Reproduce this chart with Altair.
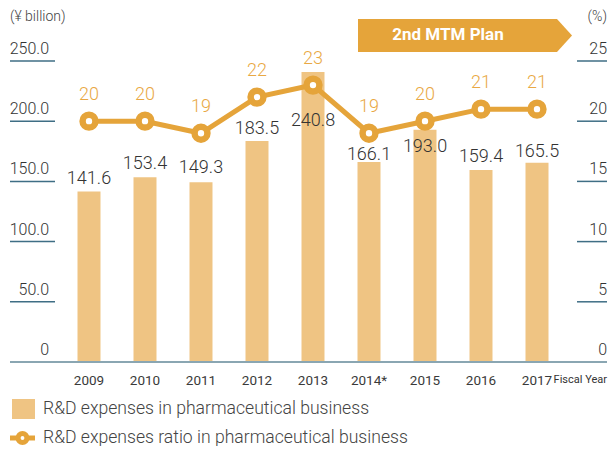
import altair as alt
import pandas as pd

# ---- data ----
years = ["2009", "2010", "2011", "2012", "2013", "2014*", "2015", "2016", "2017"]
rd_expenses = [141.6, 153.4, 149.3, 183.5, 240.8, 166.1, 193.0, 159.4, 165.5]
rd_ratio = [20, 20, 19, 22, 23, 19, 20, 21, 21]
# where each value label sits (in ¥ billion on the left scale)
value_label_pos = [152.0, 164.5, 161.0, 193.5, 200.2, 171.9, 178.4, 170.3, 174.8]

left_ticks = [50, 100, 150, 200, 250]
left_tick_labels = ["0", "50.0", "100.0", "150.0", "200.0", "250.0"]
left_label_vals = [0, 50, 100, 150, 200, 250]
right_ticks = [5, 10, 15, 20, 25]
right_tick_labels = ["0", "5", "10", "15", "20", "25"]
right_label_vals = [0, 5, 10, 15, 20, 25]

# ---- styling ----
W, H = 597, 301
BAR = "#EFC483"
ORANGE = "#E5A43A"
LABEL_OR = "#E9A843"
TICK = "#3F6E85"
BASE = "#8AA6B2"
TXT = "#333333"
FONT = "Roboto, 'Liberation Sans', sans-serif"

df = pd.DataFrame({"year": years, "rd": rd_expenses, "ratio": rd_ratio,
                   "lpos": value_label_pos})
lt = pd.DataFrame({"v": left_ticks})
ll = pd.DataFrame({"v": left_label_vals, "t": left_tick_labels})
rt = pd.DataFrame({"v": right_ticks})
rl = pd.DataFrame({"v": right_label_vals, "t": right_tick_labels})
one = pd.DataFrame({"a": [0]})

yL = alt.Scale(domain=[0, 250], nice=False, zero=True)
yR = alt.Scale(domain=[0, 25], nice=False, zero=True)
xS = alt.Scale(domain=years, range=[67.5, 538.5], paddingInner=0.5893,
               paddingOuter=0)

xenc = alt.X("year:N", sort=years, scale=xS,
             axis=alt.Axis(title=None, labelAngle=0, ticks=False, tickSize=0,
                           domain=False, labelFontWeight="normal",
                           labelFont=FONT, labelFontSize=13.5, labelColor="#3a3a3a",
                           labelBaseline="middle", labelPadding=18, grid=False))

baseline = alt.Chart(one).mark_rule(color=BASE, strokeWidth=2).encode(
    x=alt.value(0), x2=alt.value(W), y=alt.value(H))

bars = alt.Chart(df).mark_bar(color=BAR).encode(
    x=xenc, y=alt.Y("rd:Q", scale=yL, axis=None))

line = alt.Chart(df).mark_line(color=ORANGE, strokeWidth=5).encode(
    x=alt.X("year:N", sort=years, scale=xS),
    y=alt.Y("ratio:Q", scale=yR, axis=None))

pts = alt.Chart(df).mark_point(shape="circle", filled=True, fill="white",
                               stroke=ORANGE, strokeWidth=6.5, size=165,
                               opacity=1).encode(
    x=alt.X("year:N", sort=years, scale=xS),
    y=alt.Y("ratio:Q", scale=yR, axis=None))

ratio_lbl = alt.Chart(df).mark_text(dy=-26, fontSize=18, color=LABEL_OR,
                                    font=FONT, fontWeight=300,
                                    baseline="middle").encode(
    x=alt.X("year:N", sort=years, scale=xS),
    y=alt.Y("ratio:Q", scale=yR, axis=None),
    text=alt.Text("ratio:Q"))

val_lbl = alt.Chart(df).mark_text(fontSize=18, color=TXT, font=FONT,
                                  fontWeight=300, baseline="middle").encode(
    x=alt.X("year:N", sort=years, scale=xS),
    y=alt.Y("lpos:Q", scale=yL, axis=None),
    text=alt.Text("rd:Q", format=".1f"))

l_ticks = alt.Chart(lt).mark_rule(color=TICK, strokeWidth=1.5).encode(
    y=alt.Y("v:Q", scale=yL, axis=None), x=alt.value(0), x2=alt.value(45))
l_lbls = alt.Chart(ll).mark_text(align="right", baseline="alphabetic", dy=-7,
                                 fontSize=16, color=TXT, font=FONT,
                                 fontWeight=300).encode(
    y=alt.Y("v:Q", scale=yL, axis=None), x=alt.value(39), text="t:N")

r_ticks = alt.Chart(rt).mark_rule(color=TICK, strokeWidth=1.5).encode(
    y=alt.Y("v:Q", scale=yR, axis=None), x=alt.value(567), x2=alt.value(597))
r_lbls = alt.Chart(rl).mark_text(align="right", baseline="alphabetic", dy=-7,
                                 fontSize=16, color=TXT, font=FONT,
                                 fontWeight=300).encode(
    y=alt.Y("v:Q", scale=yR, axis=None), x=alt.value(597), text="t:N")

# ---- decorations ----
unit_l = alt.Chart(one).mark_text(text="(¥ billion)", align="left",
                                  baseline="middle", fontSize=14, color="#444",
                                  font=FONT, fontWeight=300).encode(
    x=alt.value(0), y=alt.value(-44))
unit_r = alt.Chart(one).mark_text(text="(%)", align="right", baseline="middle",
                                  fontSize=14, color="#444", font=FONT,
                                  fontWeight=300).encode(
    x=alt.value(597), y=alt.value(-44))

banner_path = ("M-1,-0.1542L0.8598,-0.1542L1,0L0.8598,0.1542L-1,0.1542Z")
banner = alt.Chart(one).mark_point(shape=banner_path, size=45796, filled=True,
                                   color=ORANGE, opacity=1, strokeWidth=0).encode(
    x=alt.value(455), y=alt.value(-25.5))
banner_txt = alt.Chart(one).mark_text(text="2nd MTM Plan", align="center",
                                      baseline="middle", fontSize=17,
                                      fontWeight="bold", color="white",
                                      font=FONT).encode(
    x=alt.value(438), y=alt.value(-26))

fiscal = alt.Chart(one).mark_text(text="Fiscal Year", align="right",
                                  baseline="middle", fontSize=11, color=TXT,
                                  font=FONT).encode(
    x=alt.value(597), y=alt.value(319))

sw = alt.Chart(one).mark_rect(color=BAR).encode(
    x=alt.value(2), x2=alt.value(25), y=alt.value(338), y2=alt.value(358))
leg1 = alt.Chart(one).mark_text(text="R&D expenses in pharmaceutical business",
                                align="left", baseline="middle", fontSize=17.6,
                                color="#444", font=FONT, fontWeight=300).encode(
    x=alt.value(33), y=alt.value(348))
leg_line = alt.Chart(one).mark_rule(color=ORANGE, strokeWidth=5).encode(
    x=alt.value(0), x2=alt.value(25), y=alt.value(377))
leg_pt = alt.Chart(one).mark_point(shape="circle", filled=True, fill="white",
                                   stroke=ORANGE, strokeWidth=5, size=78,
                                   opacity=1).encode(
    x=alt.value(12.5), y=alt.value(377))
leg2 = alt.Chart(one).mark_text(text="R&D expenses ratio in pharmaceutical business",
                                align="left", baseline="middle", fontSize=17.6,
                                color="#444", font=FONT, fontWeight=300).encode(
    x=alt.value(33), y=alt.value(377))

chart = alt.layer(
    bars, baseline, l_ticks, r_ticks, l_lbls, r_lbls, line, pts, ratio_lbl,
    val_lbl, unit_l, unit_r, banner, banner_txt, fiscal, sw, leg1, leg_line,
    leg_pt, leg2
).resolve_scale(y="independent").properties(
    width=W, height=H,
    autosize=alt.AutoSizeParams(type="none"),
    padding={"left": 2, "top": 53, "right": 1, "bottom": 84},
).configure_view(stroke=None)

chart.save("out.html", embed_options={"renderer": "svg", "actions": False})
